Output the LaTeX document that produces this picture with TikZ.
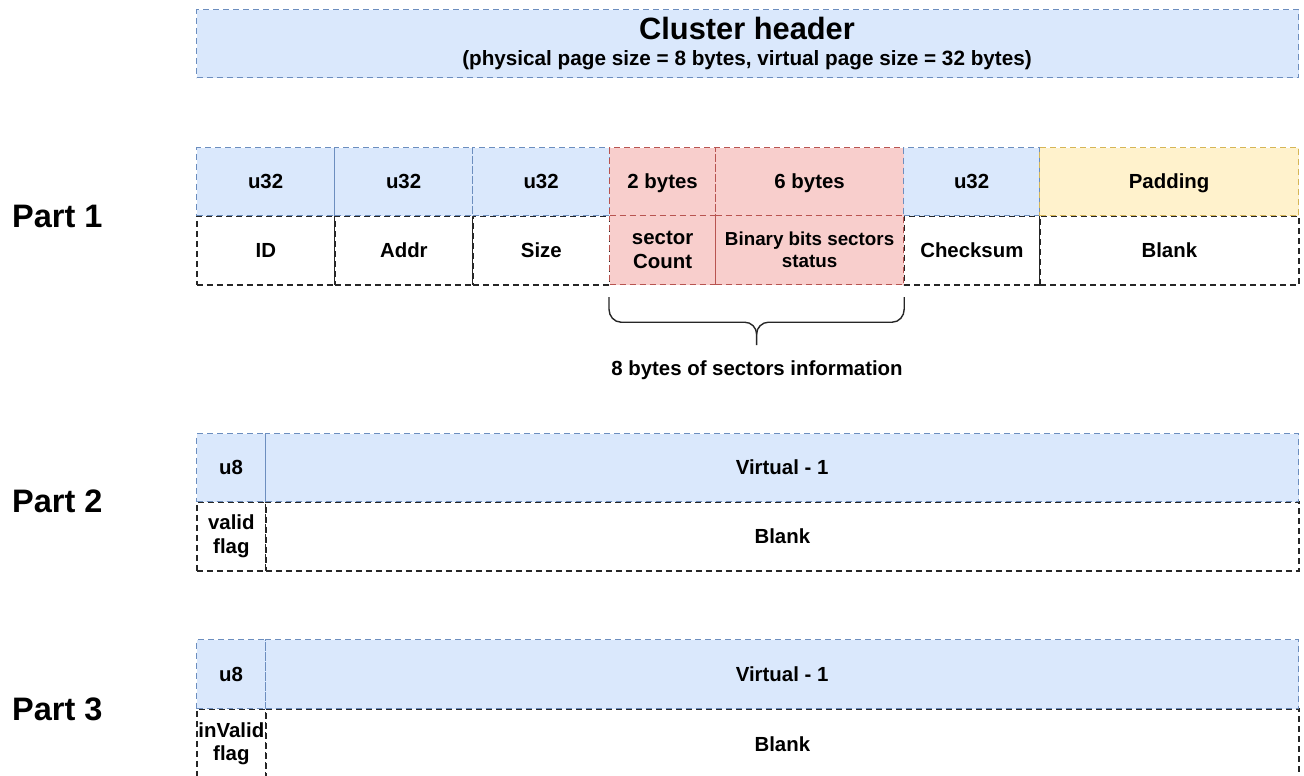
\documentclass[tikz,border=0pt]{standalone}
\usepackage{fontspec}
\setmainfont{Liberation Sans}
\usetikzlibrary{calc}
\definecolor{bluefill}{HTML}{DAE8FC}
\definecolor{blueline}{HTML}{6C8EBF}
\definecolor{redfill}{HTML}{F8CECC}
\definecolor{redline}{HTML}{B85450}
\definecolor{yelfill}{HTML}{FFF2CC}
\definecolor{yelline}{HTML}{D6B656}
\definecolor{darkline}{HTML}{262626}
\tikzset{
  cellbase/.style={dash pattern=on 6pt off 4pt, anchor=north west, inner sep=0pt,
    align=center, text=black, font=\bfseries\fontsize{20.4}{23.5}\selectfont},
  oneline/.style={text height=14.7pt, text depth=0pt},
  bluecell/.style={cellbase, fill=bluefill, draw=blueline, line width=1.2pt},
  redcell/.style={cellbase, fill=redfill, draw=redline, line width=1.2pt},
  yelcell/.style={cellbase, fill=yelfill, draw=yelline, line width=1.2pt},
  whitecell/.style={cellbase, fill=white, draw=darkline, line width=1.7pt},
  partlabel/.style={anchor=west, inner sep=0pt, font=\bfseries\fontsize{32.5}{36}\selectfont},
  smalltext/.style={font=\bfseries\fontsize{18.8}{22}\selectfont},
  bracepath/.style={draw=darkline, line width=1.4pt}
}
\begin{document}
\begin{tikzpicture}[x=1pt,y=-1pt]
\useasboundingbox (0,0) rectangle (1304,776);
\fill[white] (0,0) rectangle (1304,776);

% Cluster header
\node[bluecell, minimum width=1102pt, minimum height=68pt] (hdr) at (196,9) {};
\node[inner sep=0pt, text height=22pt, text depth=0pt, font=\bfseries\fontsize{30.8}{34}\selectfont] (hdrtitle) at (747,29) {Cluster header};
\node[inner sep=0pt, font=\bfseries\fontsize{20.7}{24}\selectfont] (hdrsub) at (747,60) {(physical page size = 8 bytes, virtual page size = 32 bytes)};

% Part 1
\node[partlabel] (p1) at (12,216) {Part 1};
\node[whitecell, oneline, minimum width=138pt, minimum height=69pt] (id) at (196,215) {ID};
\node[whitecell, oneline, minimum width=138pt, minimum height=69pt] (addr) at (334,215) {Addr};
\node[whitecell, oneline, minimum width=137pt, minimum height=69pt] (size) at (472,215) {Size};
\node[whitecell, oneline, minimum width=136pt, minimum height=69pt] (chk) at (903,215) {Checksum};
\node[whitecell, oneline, minimum width=259pt, minimum height=69pt] (blank1) at (1039,215) {Blank};
\node[redcell, minimum width=106pt, minimum height=69pt] (sc) at (609,215) {sector\\Count};
\node[redcell, minimum width=188pt, minimum height=69pt, smalltext] (bb) at (715,215) {Binary bits sectors\\status};
\node[bluecell, oneline, minimum width=138pt, minimum height=68pt] (t1) at (196,147) {u32};
\node[bluecell, oneline, minimum width=138pt, minimum height=68pt] (t2) at (334,147) {u32};
\node[bluecell, oneline, minimum width=137pt, minimum height=68pt] (t3) at (472,147) {u32};
\node[redcell, oneline, minimum width=106pt, minimum height=68pt] (t4) at (609,147) {2 bytes};
\node[redcell, oneline, minimum width=188pt, minimum height=68pt] (t5) at (715,147) {6 bytes};
\node[bluecell, oneline, minimum width=136pt, minimum height=68pt] (t6) at (903,147) {u32};
\node[yelcell, oneline, minimum width=259pt, minimum height=68pt] (t7) at (1039,147) {Padding};

% Brace
\coordinate (bl) at ($(sc.south west)+(0,12)$);
\coordinate (br) at ($(bb.south east)+(0,12)$);
\coordinate (bm) at ($(bl)!0.5!(br)+(0,48)$);
\draw[bracepath] (bl) -- ++(0,12) to[out=-90,in=180] ++(12,13) -- ($(bm)+(-12,-23)$)
  to[out=0,in=90] ($(bm)+(0,-11)$) -- (bm);
\draw[bracepath] (br) -- ++(0,12) to[out=-90,in=0] ++(-12,13) -- ($(bm)+(12,-23)$)
  to[out=180,in=90] ($(bm)+(0,-11)$);
\node[inner sep=0pt, oneline, font=\bfseries\fontsize{20.4}{23.5}\selectfont] (brlabel) at (757,368) {8 bytes of sectors information};

% Part 2
\node[partlabel] (p2) at (12,501) {Part 2};
\node[whitecell, minimum width=69pt, minimum height=69pt] (vf) at (196,501) {valid\\flag};
\node[whitecell, oneline, minimum width=1033pt, minimum height=69pt] (blank2) at (265,501) {Blank};
\node[bluecell, oneline, minimum width=69pt, minimum height=68pt] (u82) at (196,433) {u8};
\node[bluecell, oneline, minimum width=1033pt, minimum height=68pt] (v2) at (265,433) {Virtual - 1};

% Part 3
\node[partlabel] (p3) at (12,709) {Part 3};
\node[whitecell, minimum width=69pt, minimum height=70pt] (ivf) at (196,708) {inValid\\flag};
\node[whitecell, oneline, minimum width=1033pt, minimum height=70pt] (blank3) at (265,708) {Blank};
\node[bluecell, oneline, minimum width=69pt, minimum height=69pt] (u83) at (196,639) {u8};
\node[bluecell, oneline, minimum width=1033pt, minimum height=69pt] (v3) at (265,639) {Virtual - 1};
\end{tikzpicture}
\end{document}
